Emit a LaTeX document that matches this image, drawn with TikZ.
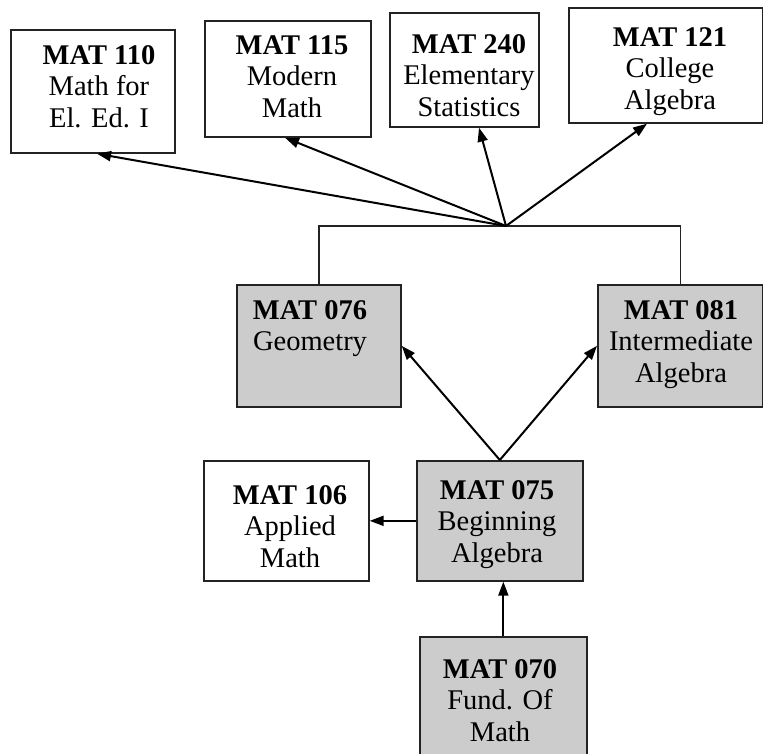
\documentclass[tikz,border=0pt]{standalone}
\usepackage{fontspec}
\setmainfont{Liberation Serif}
\usetikzlibrary{arrows.meta,calc}
\definecolor{boxgray}{RGB}{204,204,204}
\definecolor{edge}{RGB}{35,35,35}
\tikzset{
  course/.style={draw=edge, line width=1.7pt, inner sep=0pt, anchor=north west},
  grayc/.style={course, fill=boxgray},
  whitec/.style={course, fill=white},
  ctext/.style={anchor=north, align=center, inner sep=0pt, font=\fontsize{28.5}{31.5}\selectfont},
  arr/.style={draw=black, line width=2pt, -{Triangle[length=14pt,width=10pt]}},
  link/.style={draw=edge, line width=1.4pt},
}
\newcommand{\cbox}[6]{% name, style, x1, y1, x2, y2
  \node[#2, minimum width={(#5-#3)*1pt}, minimum height={(#6-#4)*1pt}] (#1) at (#3,#4) {};}
\begin{document}
\begin{tikzpicture}[x=1pt,y=-1pt]
\path[use as bounding box, clip] (0,0) rectangle (763,754);
\fill[white] (0,0) rectangle (763,754);
% boxes
\cbox{b110}{whitec}{10}{29}{174}{152}
\cbox{b115}{whitec}{204}{20}{370}{136}
\cbox{b240}{whitec}{389}{12}{538}{126}
\cbox{b121}{whitec}{568}{7}{762}{122}
\cbox{b076}{grayc}{236}{284}{400}{406}
\cbox{b081}{grayc}{597}{284}{762}{406}
\cbox{b106}{whitec}{203}{460}{368}{580}
\cbox{b075}{grayc}{416}{460}{582}{580}
\cbox{b070}{grayc}{419}{636}{586}{780}
% texts
\node[ctext] (t110) at (99,45) {\textbf{MAT 110}\\Math for\\El. Ed. I};
\node[ctext] (t115) at (292,35) {\textbf{MAT 115}\\Modern\\Math};
\node[ctext] (t240) at (469,34) {\textbf{MAT 240}\\Elementary\\Statistics};
\node[ctext] (t121) at (670,27) {\textbf{MAT 121}\\College\\Algebra};
\node[ctext] (t076) at (310,300) {\textbf{MAT 076}\\Geometry};
\node[ctext] (t081) at (681,300) {\textbf{MAT 081}\\Intermediate\\Algebra};
\node[ctext] (t075) at (497,480) {\textbf{MAT 075}\\Beginning\\Algebra};
\node[ctext] (t106) at (290,485) {\textbf{MAT 106}\\Applied\\Math};
\node[ctext] (t070) at (500,659) {\textbf{MAT 070}\\Fund. Of\\Math};
% connectors
\coordinate (hub) at (506,226);
\draw[link] (b076.north) |- (hub) -| (b081.north);
\draw[arr] (hub) -- ([xshift=87pt]b110.south west);
\draw[arr] (hub) -- ([xshift=81pt]b115.south west);
\draw[arr] (hub) -- ([xshift=90pt]b240.south west);
\draw[arr] (hub) -- ([xshift=79pt]b121.south west);
\draw[arr] (b075.north) -- (b076.east);
\draw[arr] (b075.north) -- (b081.west);
\draw[arr] (b075.west) -- (b106.east);
\draw[arr] (b070.north) -- (b070.north |- b075.south);
\end{tikzpicture}
\end{document}
